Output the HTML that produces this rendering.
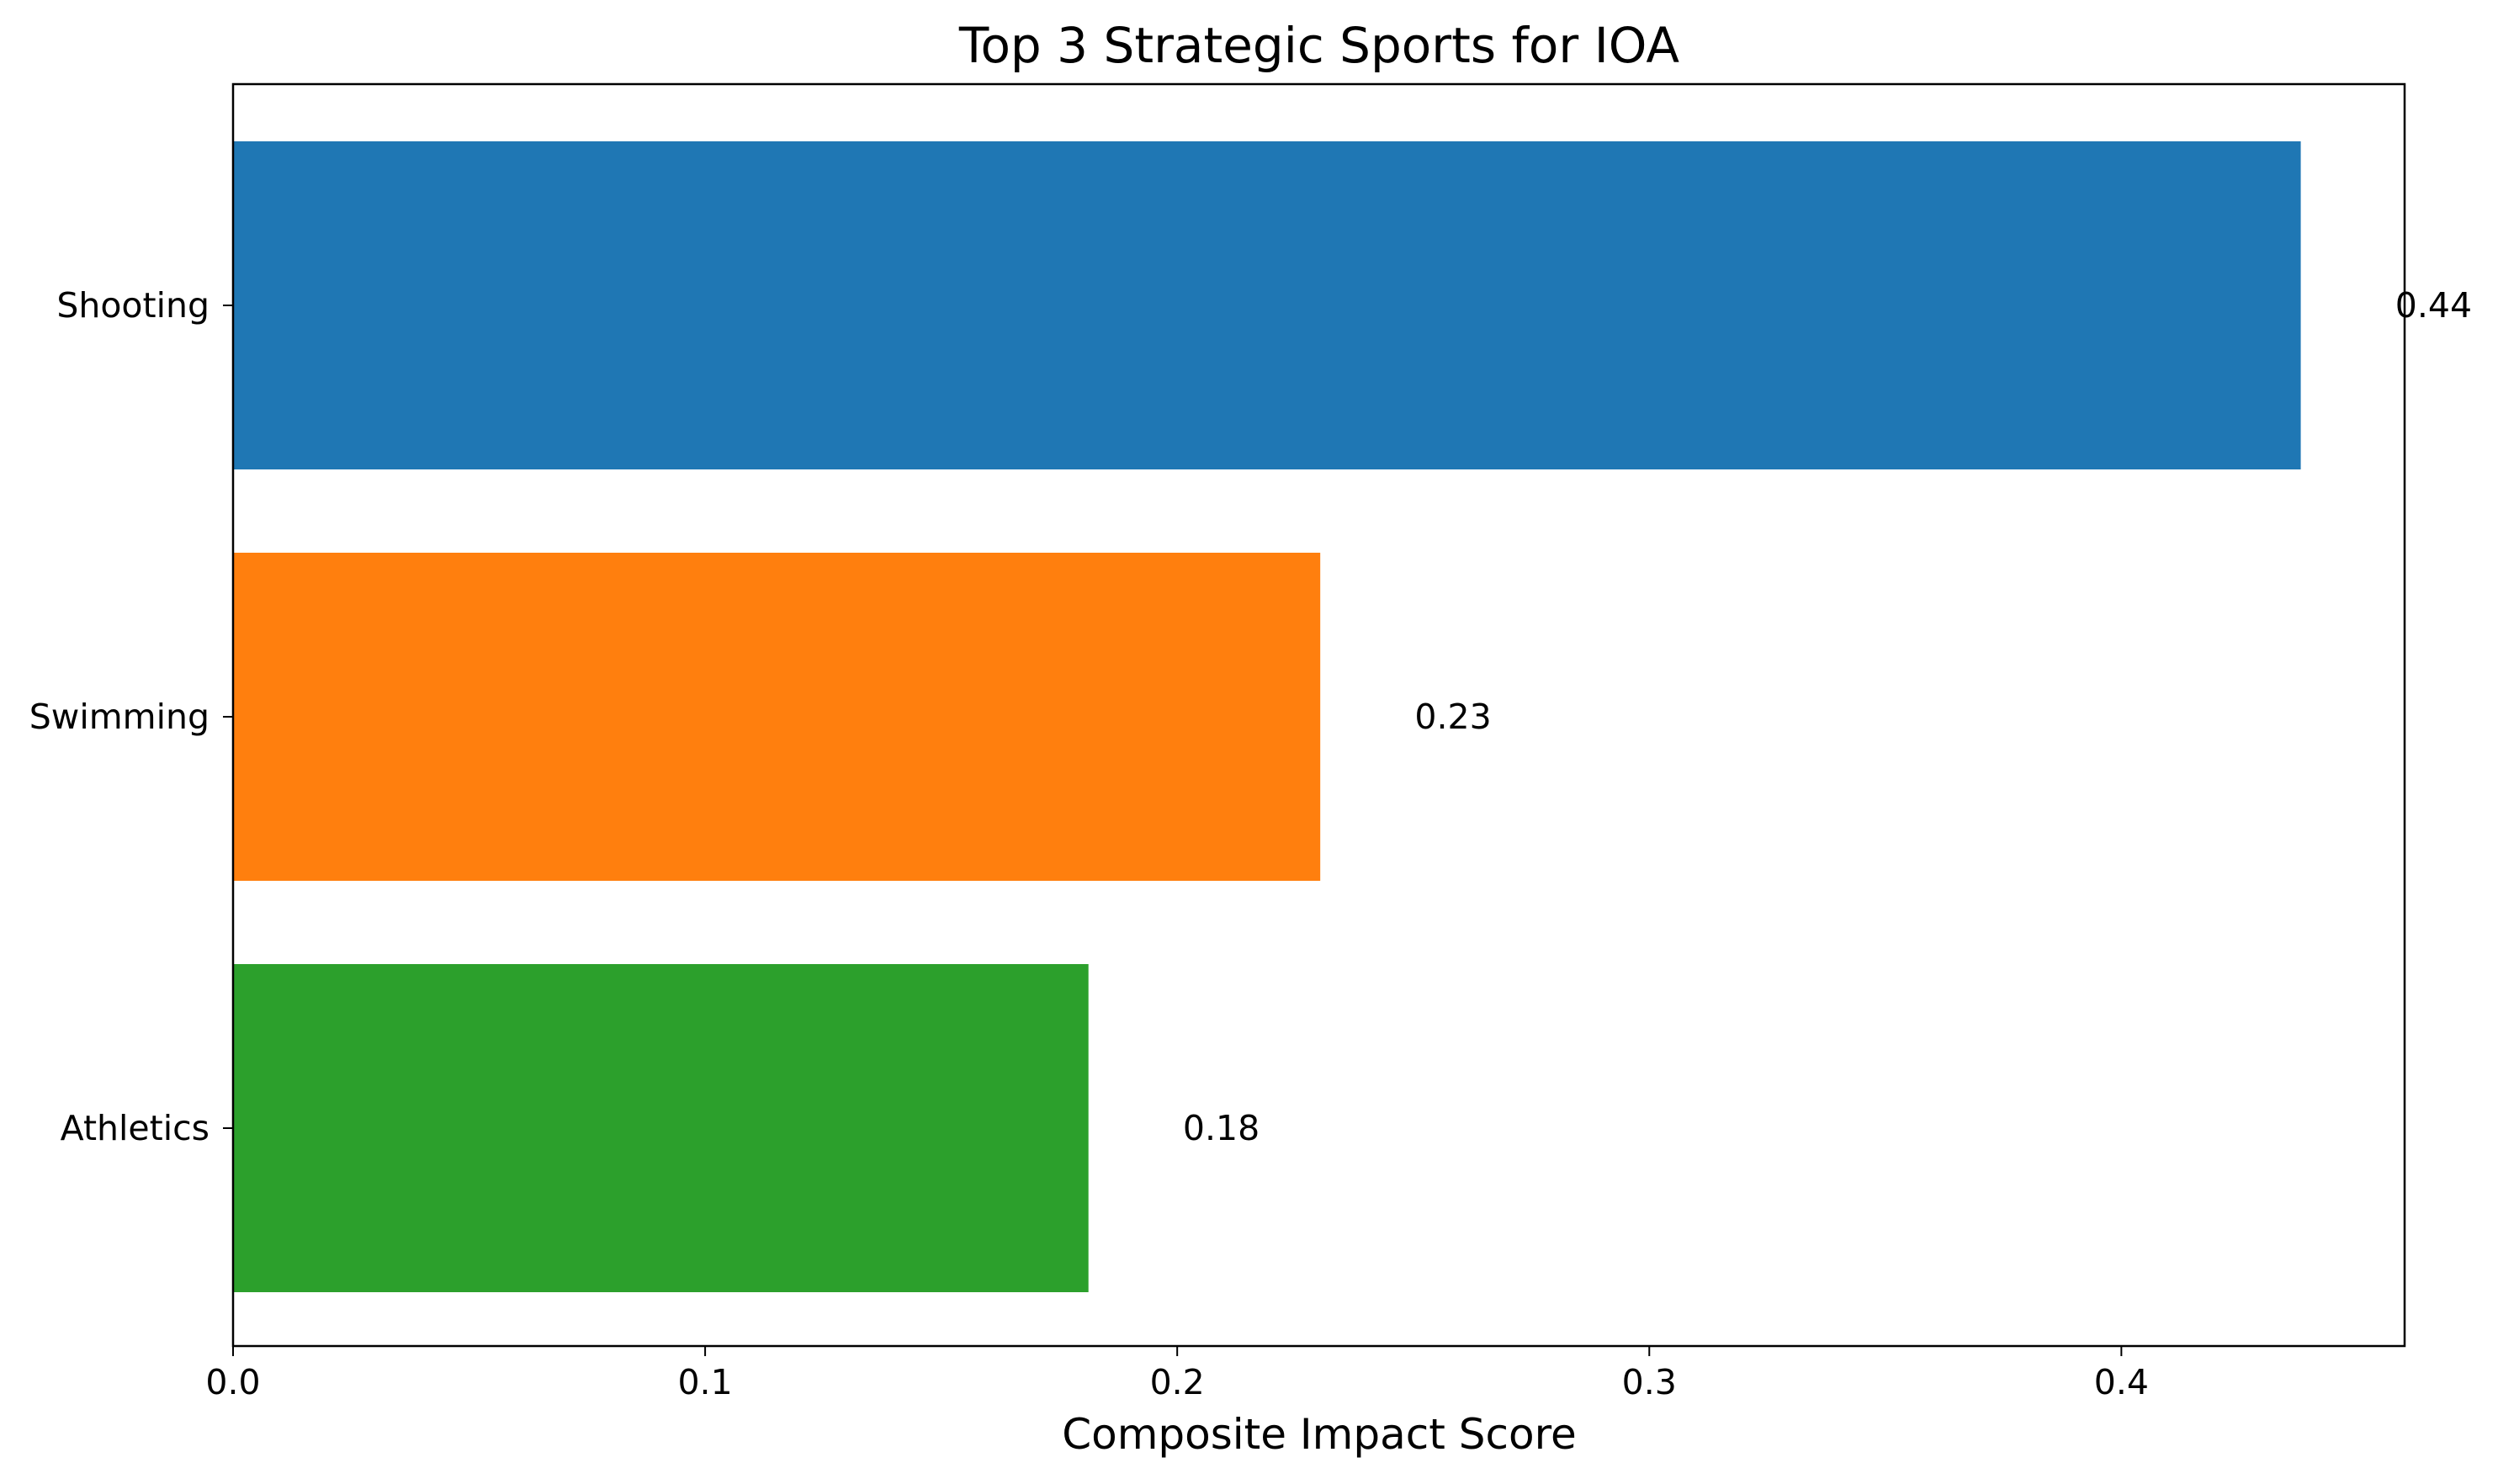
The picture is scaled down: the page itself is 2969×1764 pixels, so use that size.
<!DOCTYPE html>
<html><head><meta charset="utf-8"><style>
html,body{margin:0;padding:0;background:#fff}
svg{display:block;font-family:"DejaVu Sans","Liberation Sans",sans-serif}
</style></head><body>
<svg id="chart" width="2969" height="1764" viewBox="0 0 2969 1764" xmlns="http://www.w3.org/2000/svg">
<rect width="2969" height="1764" fill="#fff"/>
<text x="1568" y="74" font-size="58" text-anchor="middle">Top 3 Strategic Sports for IOA</text>
<text x="1568" y="1722" font-size="50" text-anchor="middle">Composite Impact Score</text>
<g id="plot"></g>
</svg>
<script>
const categories = ["Shooting", "Swimming", "Athletics"];
const values = [0.438, 0.2303, 0.1812];
const valueLabels = ["0.44", "0.23", "0.18"];
const colors = ["#1f77b4", "#ff7f0e", "#2ca02c"];
const xTicks = [0.0, 0.1, 0.2, 0.3, 0.4];
const xTickLabels = ["0.0", "0.1", "0.2", "0.3", "0.4"];

const L = 277, R = 2858, T = 100, B = 1600;
const xMax = 0.46;
const NS = "http://www.w3.org/2000/svg";
const g = document.getElementById('plot');
function xs(v){ return L + (v / xMax) * (R - L); }
function ys(i){ const slot = 489; return 363 + i * slot; }
const barH = 390;
function mk(tag, attrs){ const e = document.createElementNS(NS, tag); for (const k in attrs) e.setAttribute(k, attrs[k]); g.appendChild(e); return e; }

categories.forEach((c, i) => {
  const cy = ys(i);
  const r = mk('rect', {x: xs(0), y: cy - barH/2, width: xs(values[i]) - xs(0), height: barH, fill: colors[i]});
  
  
  const t = mk('text', {x: xs(values[i] + 0.02), y: cy + 14, 'font-size': 41});
  t.textContent = valueLabels[i];
  
  
  const tk = mk('line', {x1: L - 12, x2: L, y1: cy, y2: cy, stroke: '#000', 'stroke-width': 2});
  
  
  const yl = mk('text', {x: L - 28, y: cy + 14, 'font-size': 41, 'text-anchor': 'end'});
  yl.textContent = c;
  
  
});

xTicks.forEach((v, i) => {
  const x = xs(v);
  const tk = mk('line', {x1: x, x2: x, y1: B, y2: B + 12, stroke: '#000', 'stroke-width': 2});
  
  
  const tl = mk('text', {x: x, y: B + 57, 'font-size': 41, 'text-anchor': 'middle'});
  tl.textContent = xTickLabels[i];
  
  
});

const frame = mk('rect', {x: L, y: T, width: R - L, height: B - T, fill: 'none', stroke: '#000', 'stroke-width': 2.5});


</script>
</body></html>
